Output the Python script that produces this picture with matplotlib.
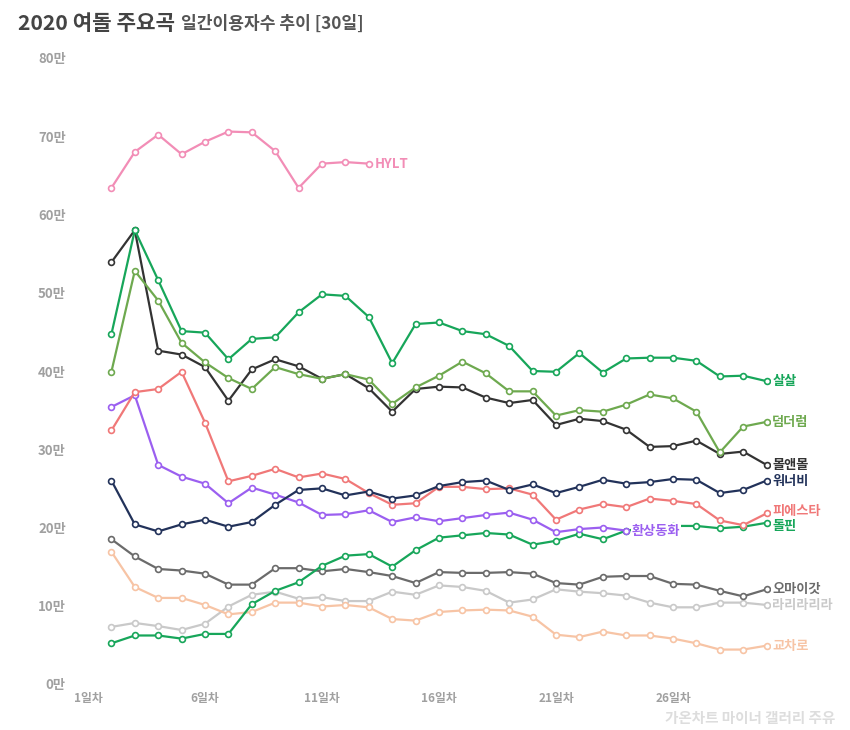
import matplotlib
matplotlib.use('Agg')
import matplotlib.pyplot as plt

plt.rcParams['font.family'] = ['Noto Sans CJK KR', 'DejaVu Sans']

# days 2..30 (29 points); HYLT stops at day 13, 환상동화 at day 24
days = list(range(2, 31))

hylt = [63.4, 68.0, 70.2, 67.7, 69.3, 70.6, 70.5, 68.1, 63.4, 66.5, 66.7, 66.5]
salsal = [44.7, 58.0, 51.6, 45.1, 44.9, 41.5, 44.1, 44.3, 47.5, 49.8, 49.6, 46.9, 41.0, 46.0, 46.2,
          45.1, 44.7, 43.2, 40.0, 39.9, 42.3, 39.8, 41.6, 41.7, 41.7, 41.3, 39.3, 39.4, 38.7]
dumdurum = [39.9, 52.8, 49.0, 43.6, 41.1, 39.1, 37.7, 40.5, 39.6, 39.0, 39.6, 38.9, 35.8, 37.9, 39.4,
            41.2, 39.7, 37.4, 37.4, 34.3, 35.0, 34.8, 35.7, 37.0, 36.5, 34.8, 29.6, 32.9, 33.5]
mollaen = [53.9, 58.0, 42.6, 42.1, 40.5, 36.2, 40.2, 41.5, 40.6, 39.0, 39.6, 37.8, 34.8, 37.7, 38.0,
           37.9, 36.6, 35.9, 36.3, 33.1, 33.9, 33.6, 32.5, 30.3, 30.4, 31.1, 29.4, 29.7, 28.0]
wannabe = [26.0, 20.4, 19.5, 20.4, 21.0, 20.1, 20.7, 22.9, 24.8, 25.0, 24.1, 24.6, 23.7, 24.1, 25.3,
           25.8, 26.0, 24.8, 25.5, 24.4, 25.2, 26.1, 25.6, 25.8, 26.2, 26.1, 24.4, 24.8, 26.0]
fiesta = [32.4, 37.3, 37.7, 39.9, 33.4, 25.9, 26.6, 27.5, 26.4, 26.9, 26.2, 24.4, 22.9, 23.1, 25.2,
          25.2, 24.9, 25.0, 24.2, 21.0, 22.3, 23.0, 22.6, 23.7, 23.4, 23.0, 20.9, 20.3, 21.8]
fantasy = [35.4, 36.9, 28.0, 26.5, 25.6, 23.1, 25.1, 24.2, 23.2, 21.6, 21.7, 22.2, 20.7, 21.3, 20.8,
           21.2, 21.6, 21.9, 21.0, 19.4, 19.8, 20.0, 19.6]
dolphin = [5.2, 6.2, 6.2, 5.8, 6.4, 6.4, 10.2, 11.9, 13.0, 15.1, 16.4, 16.6, 15.0, 17.1, 18.7,
           19.0, 19.3, 19.1, 17.8, 18.3, 19.2, 18.5, 19.6, 20.0, 20.2, 20.2, 19.9, 20.1, 20.6]
omg = [18.5, 16.3, 14.7, 14.5, 14.1, 12.7, 12.7, 14.8, 14.8, 14.4, 14.7, 14.3, 13.8, 12.9, 14.3,
       14.2, 14.2, 14.3, 14.1, 12.9, 12.7, 13.7, 13.8, 13.8, 12.8, 12.7, 11.9, 11.2, 12.1]
lari = [7.3, 7.8, 7.4, 6.9, 7.7, 9.9, 11.4, 11.8, 10.9, 11.1, 10.6, 10.6, 11.8, 11.4, 12.6,
        12.4, 11.9, 10.4, 10.8, 12.1, 11.8, 11.6, 11.3, 10.4, 9.8, 9.8, 10.4, 10.4, 10.1]
gyocharo = [16.9, 12.4, 11.0, 11.0, 10.1, 8.9, 9.2, 10.4, 10.4, 9.9, 10.1, 9.8, 8.3, 8.1, 9.2,
            9.4, 9.5, 9.4, 8.6, 6.3, 6.0, 6.7, 6.2, 6.2, 5.8, 5.2, 4.4, 4.4, 4.9]

# name, values, colour, label y-offset (points)
series = [
    ('라리라리라', lari, '#c9c9c9', 0),
    ('교차로', gyocharo, '#f7c4a5', 0),
    ('오마이갓', omg, '#6b6b6b', 0),
    ('돌핀', dolphin, '#17a65a', -2),
    ('환상동화', fantasy, '#9b5ff0', 0),
    ('피에스타', fiesta, '#f07878', 2),
    ('워너비', wannabe, '#22325a', 0),
    ('몰앤몰', mollaen, '#333333', 0),
    ('덤더럼', dumdurum, '#6ea94f', 0),
    ('살살', salsal, '#17a65a', 0),
    ('HYLT', hylt, '#f28db6', 0),
]

fig = plt.figure(figsize=(8.5, 7.3), dpi=100)
ax = fig.add_axes([88 / 850, 46 / 730, 702 / 850, 626 / 730])

for name, vals, col, dy in series:
    xs = days[:len(vals)]
    ax.plot(xs, vals, color=col, lw=1.6, marker='o', ms=4.2,
            mfc='white', mec=col, mew=1.2, zorder=3)
    ax.annotate(name, (xs[-1], vals[-1]), xytext=(4, dy), textcoords='offset points',
                color=col, fontsize=9.5, fontweight='bold', va='center', ha='left', zorder=6,
                bbox=dict(boxstyle='square,pad=0.05', fc='white', ec='none'))

ax.set_xlim(1, 31)
ax.set_ylim(0, 80)
ax.set_xticks([1, 6, 11, 16, 21, 26])
ax.set_xticklabels(['1일차', '6일차', '11일차', '16일차', '21일차', '26일차'])
ax.set_yticks(range(0, 81, 10))
ax.set_yticklabels([f'{v}만' for v in range(0, 81, 10)])
ax.tick_params(length=0, labelcolor='#a0a0a0')
ax.tick_params(axis='y', pad=16, labelsize=9.5)
ax.tick_params(axis='x', pad=6, labelsize=8.5)
for lab in ax.get_xticklabels() + ax.get_yticklabels():
    lab.set_fontweight('bold')
for sp in ax.spines.values():
    sp.set_visible(False)

t1 = fig.text(18 / 850, 1 - 23 / 730, '2020 여돌 주요곡', fontsize=15.3, fontweight='bold',
              color='#444444', va='center', ha='left')
fig.canvas.draw()
bb = t1.get_window_extent()
fig.text(bb.x1 / 850 + 6 / 850, 1 - 24 / 730, '일간이용자수 추이 [30일]', fontsize=12.3,
         fontweight='bold', color='#555555', va='center', ha='left')

fig.text(835 / 850, 1 - 718 / 730, '가온차트 마이너 갤러리 주유', fontsize=10.5, fontweight='bold',
         color='#dddddd', ha='right', va='center')

fig.savefig('out.png', dpi=100, facecolor='white')
